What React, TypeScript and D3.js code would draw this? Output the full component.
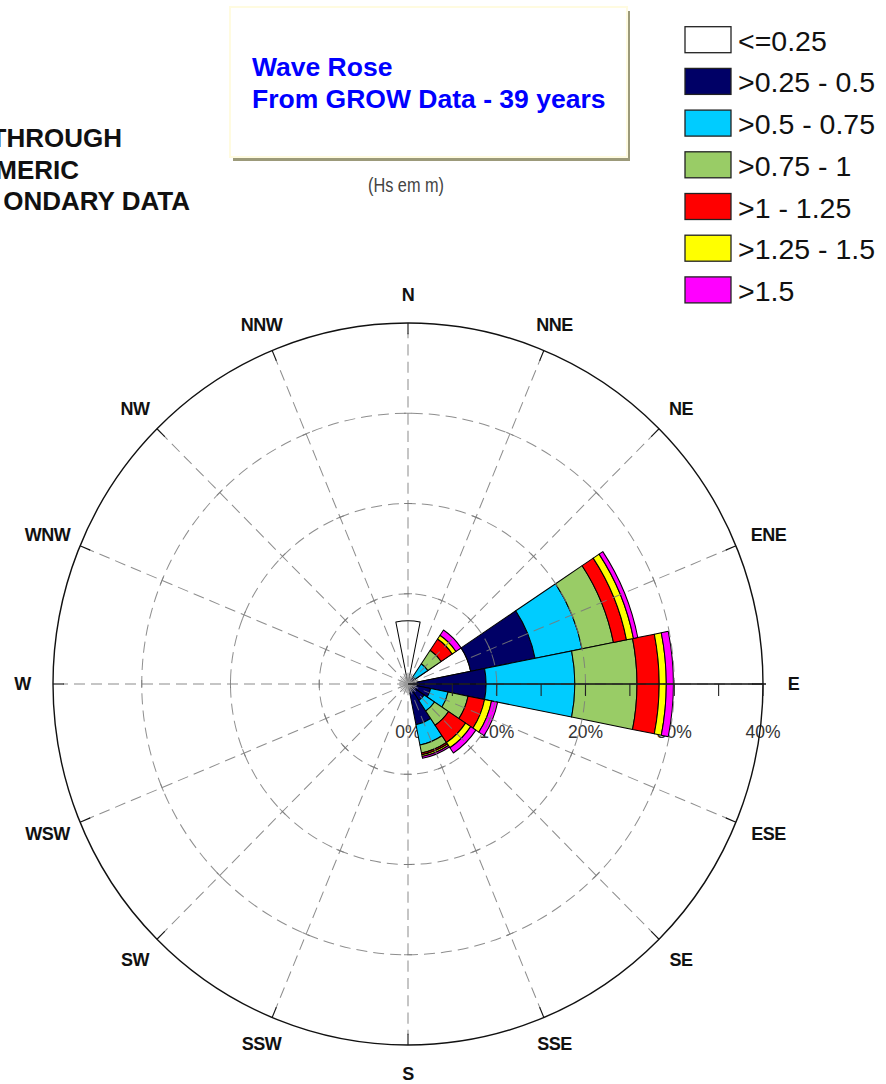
import React from "react";
import * as d3 from "d3";

// ---------- data ----------
const directions = ["N", "NNE", "NE", "ENE", "E", "ESE", "SE", "SSE", "S", "SSW", "SW", "WSW", "W", "WNW", "NW", "NNW"];
const binLabels = ["<=0.25", ">0.25 - 0.5", ">0.5 - 0.75", ">0.75 - 1", ">1 - 1.25", ">1.25 - 1.5", ">1.5"];
const binColors = ["#FFFFFF", "#000066", "#00CCFF", "#99CC66", "#FF0000", "#FFFF00", "#FF00FF"];

// frequency of occurrence (%) per direction, one array per Hs class
const hsLe025 = [7.0, 0, 0, 7.2, 0, 0, 0, 0, 0, 0, 0, 0, 0, 0, 0, 0];
const hs025to05 = [0, 0, 0.9, 7.4, 8.8, 2.6, 2.2, 4.6, 0, 0, 0, 0, 0, 0, 0, 0];
const hs05to075 = [0, 0, 1.8, 5.4, 10.0, 2.0, 1.4, 2.3, 0, 0, 0, 0, 0, 0, 0, 0];
const hs075to1 = [0, 0, 1.8, 3.6, 7.0, 2.3, 1.9, 0.9, 0, 0, 0, 0, 0, 0, 0, 0];
const hs1to125 = [0, 0, 1.5, 1.5, 2.5, 1.9, 2.3, 0.2, 0, 0, 0, 0, 0, 0, 0, 0];
const hs125to15 = [0, 0, 0.5, 0.8, 0.8, 0.8, 0.7, 0.2, 0, 0, 0, 0, 0, 0, 0, 0];
const hsGt15 = [0, 0, 0.7, 0.5, 0.8, 0.7, 0.7, 0.2, 0, 0, 0, 0, 0, 0, 0, 0];

const gridLevels = [10, 20, 30];
const axisTicks = [5, 10, 15, 20, 25, 30, 35, 40];
const tickLabelValues = [0, 10, 20, 30, 40];
const tickLabels = ["0%", "10%", "20%", "30%", "40%"];
const titleLines = ["Wave Rose", "From GROW Data - 39 years"];
const unitLabel = "(Hs em m)";
const noteLines = ["THROUGH", "MERIC", "ONDARY DATA"];

// ---------- layout ----------
const W = 886;
const H = 1084;
const cx = 408;
const cy = 684;
const R = 355;
const ky = 361 / 355;
const maxPct = 40;

const series = [hsLe025, hs025to05, hs05to075, hs075to1, hs1to125, hs125to15, hsGt15];
const keys = binLabels;
const table = directions.map((d, i) => {
  const row: any = { dir: d };
  keys.forEach((k, j) => (row[k] = series[j][i]));
  return row;
});

export default function App() {
  const pct = d3.scaleLinear().domain([0, maxPct]).range([0, R]);
  const sw = (2 * Math.PI) / directions.length;
  const stacked = d3.stack<any>().keys(keys)(table);
  const arcGen = d3.arc<any>();
  const font = "'Liberation Sans', Arial, Helvetica, sans-serif";
  const gridColor = "#7a7a7a";

  const wedges: any[] = [];
  stacked.forEach((layer, j) => {
    layer.forEach((seg, i) => {
      if (seg[1] - seg[0] <= 0) return;
      const a = i * sw;
      wedges.push({
        key: `${j}-${i}`,
        d: arcGen({
          innerRadius: pct(seg[0]),
          outerRadius: pct(seg[1]),
          startAngle: a - sw / 2,
          endAngle: a + sw / 2,
        }),
        fill: binColors[j],
      });
    });
  });

  const dirAngles = directions.map((_, i) => i * sw);
  const burst = d3.range(32).map((i) => (i * 2 * Math.PI) / 32);

  const labelR = 383;
  const legendY0 = 26.7;
  const legendStep = 41.7;

  return (
    <svg
      width={W}
      height={H}
      viewBox={`0 0 ${W} ${H}`}
      style={{ position: "absolute", left: 0, top: 0, display: "block", background: "#fff" }}
    >
      <rect x={0} y={0} width={W} height={H} fill="#fff" />

      {/* side note (clipped by page edge, as in the reference) */}
      {noteLines.map((t, i) => (
        <text
          key={t}
          x={[122, 79, 190][i]}
          y={147 + i * 31.5}
          textAnchor="end"
          fontFamily={font}
          fontWeight="bold"
          fontSize={26}
          fill="#111"
        >
          {t}
        </text>
      ))}

      {/* title box */}
      <rect x={233} y={11} width={397} height={150} fill="#9c9a7a" />
      <rect x={230} y={7} width={397} height={150} fill="#fff" stroke="#fffbe0" strokeWidth={2} />
      {titleLines.map((t, i) => (
        <text key={t} x={252} y={76 + i * 32} fontFamily={font} fontWeight="bold" fontSize={26.5} fill="#0000FF">
          {t}
        </text>
      ))}
      <text
        x={368}
        y={192}
        fontFamily={font}
        fontSize={20}
        fill="#444"
        textLength={76}
        lengthAdjust="spacingAndGlyphs"
      >
        {unitLabel}
      </text>

      {/* legend */}
      {binLabels.map((t, i) => (
        <g key={t}>
          <rect
            x={685}
            y={legendY0 + i * legendStep}
            width={46}
            height={26}
            fill={binColors[i]}
            stroke="#222"
            strokeWidth={1.3}
          />
          <text x={738} y={legendY0 + i * legendStep + 24} fontFamily={font} fontSize={28.5} fill="#111">
            {t}
          </text>
        </g>
      ))}

      {/* radial tick labels (under wedges) */}
      {tickLabelValues.map((v, i) => (
        <text
          key={v}
          x={cx + pct(v)}
          y={738}
          textAnchor="middle"
          fontFamily={font}
          fontSize={17.5}
          fill="#333"
        >
          {tickLabels[i]}
        </text>
      ))}

      <g transform={`translate(${cx},${cy}) scale(1,${ky})`}>
        {/* wedges */}
        {wedges.map((w) => (
          <path key={w.key} d={w.d} fill={w.fill} stroke="#000" strokeWidth={1} strokeLinejoin="round" />
        ))}

        {/* dashed grid circles */}
        {gridLevels.map((v) => (
          <circle key={v} r={pct(v)} fill="none" stroke={gridColor} strokeWidth={1} strokeDasharray="11,6" opacity={0.85} />
        ))}

        {/* radial dashed lines */}
        {dirAngles.map((a, i) => (
          <g key={i}>
            <line
              x1={0}
              y1={0}
              x2={Math.sin(a) * (R - 10)}
              y2={-Math.cos(a) * (R - 10)}
              stroke={gridColor}
              strokeWidth={1}
              strokeDasharray="11,6"
              opacity={0.85}
            />
            <line
              x1={Math.sin(a) * (R - 11)}
              y1={-Math.cos(a) * (R - 11)}
              x2={Math.sin(a) * R}
              y2={-Math.cos(a) * R}
              stroke="#111"
              strokeWidth={1.1}
            />
            {gridLevels.map((v) => {
              const r = pct(v);
              const px = Math.sin(a) * r;
              const py = -Math.cos(a) * r;
              const tx = Math.cos(a) * 4;
              const ty = Math.sin(a) * 4;
              return (
                <line
                  key={v}
                  x1={px - tx}
                  y1={py - ty}
                  x2={px + tx}
                  y2={py + ty}
                  stroke={gridColor}
                  strokeWidth={1}
                  opacity={0.85}
                />
              );
            })}
          </g>
        ))}

        {/* centre starburst */}
        {burst.map((a, i) => (
          <line
            key={i}
            x1={0}
            y1={0}
            x2={Math.sin(a) * 9}
            y2={-Math.cos(a) * 9}
            stroke="#999"
            strokeWidth={0.8}
          />
        ))}

        {/* outer circle */}
        <circle r={R} fill="none" stroke="#111" strokeWidth={1.4} />
      </g>

      {/* E axis with ticks */}
      <line x1={cx} y1={cy} x2={cx + R + 3} y2={cy} stroke="#111" strokeWidth={1.3} />
      {axisTicks.map((v) => (
        <line key={v} x1={cx + pct(v)} y1={cy} x2={cx + pct(v)} y2={cy + 12} stroke="#222" strokeWidth={1.1} />
      ))}

      {/* direction labels */}
      {directions.map((d, i) => {
        const a = dirAngles[i];
        const s = Math.sin(a);
        const c = Math.cos(a);
        const tw = d.length * 13;
        const extra = Math.sign(s) * Math.max(0, Math.abs(s) - 0.5) * tw * 0.4;
        const x = cx + s * labelR + extra;
        const y = cy - c * labelR * ky;
        return (
          <text
            key={d}
            x={x}
            y={y}
            dy="0.36em"
            textAnchor="middle"
            fontFamily={font}
            fontWeight="bold"
            fontSize={18}
            letterSpacing={-0.5}
            fill="#111"
          >
            {d}
          </text>
        );
      })}
    </svg>
  );
}
